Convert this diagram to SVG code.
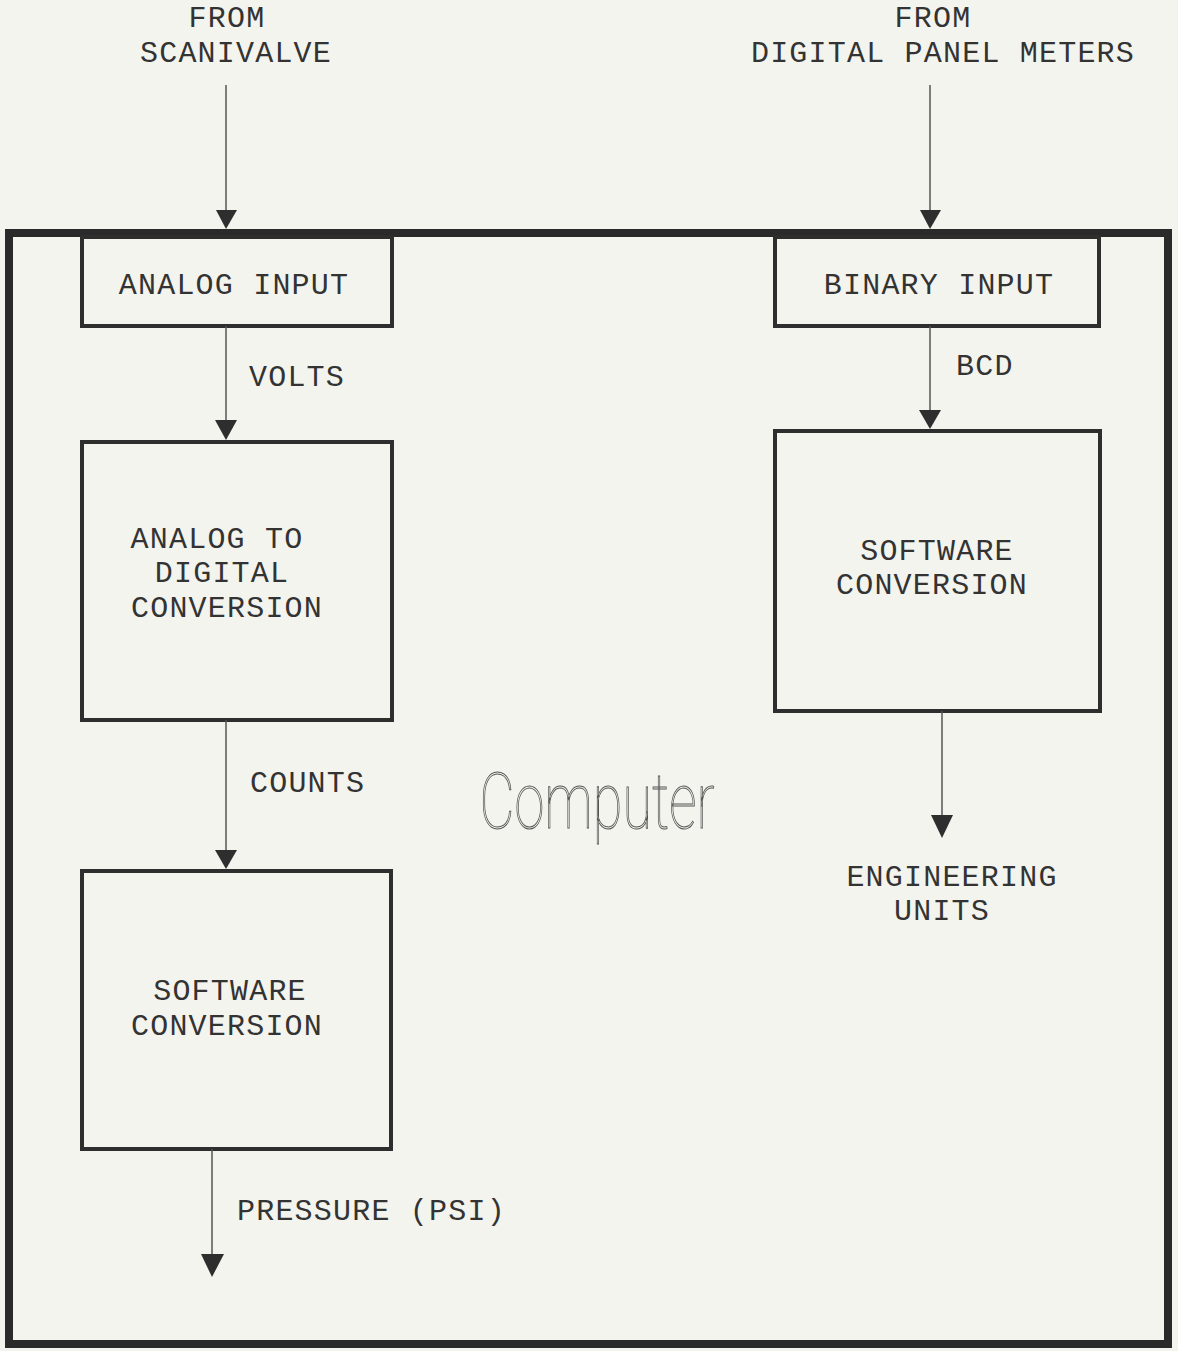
<svg xmlns="http://www.w3.org/2000/svg" width="1178" height="1351" viewBox="0 0 1178 1351">
<defs>
<style>
.t{font-family:"Liberation Mono","Courier New",monospace;font-size:30px;letter-spacing:1.2px;fill:#333;text-anchor:middle}
.l{text-anchor:start}
.box{fill:none;stroke:#2e2e2e;stroke-width:4}
.ln{stroke:#555;stroke-width:1.5;fill:none}
.ah{fill:#2e2e2e}
</style>
</defs>
<rect x="0" y="0" width="1178" height="1351" fill="#f4f4ee"/>
<g id="computer">
<rect x="9" y="233" width="1159" height="1111" fill="none" stroke="#2a2a2a" stroke-width="8"/>
<text x="597" y="828" font-family="Roboto,'Liberation Sans',sans-serif" font-weight="100" font-size="78" fill="#f4f4ee" stroke="#555" stroke-width="1" textLength="235" lengthAdjust="spacingAndGlyphs" text-anchor="middle">Computer</text>
</g>
<g id="src-scanivalve">
<text class="t" x="227" y="27">FROM</text>
<text class="t" x="236" y="62">SCANIVALVE</text>
</g>
<g id="src-dpm">
<text class="t" x="933" y="27">FROM</text>
<text class="t" x="943" y="62">DIGITAL PANEL METERS</text>
</g>
<g id="analog-input">
<rect class="box" x="82" y="237" width="310" height="89"/>
<text class="t" x="234" y="294">ANALOG INPUT</text>
</g>
<g id="binary-input">
<rect class="box" x="775" y="237" width="324" height="89"/>
<text class="t" x="939" y="294">BINARY INPUT</text>
</g>
<g id="adc">
<rect class="box" x="82" y="442" width="310" height="278"/>
<text class="t" x="217" y="548">ANALOG TO</text>
<text class="t" x="222" y="582">DIGITAL</text>
<text class="t" x="227" y="617">CONVERSION</text>
</g>
<g id="sw-left">
<rect class="box" x="82" y="871" width="309" height="278"/>
<text class="t" x="230" y="1000">SOFTWARE</text>
<text class="t" x="227" y="1035">CONVERSION</text>
</g>
<g id="sw-right">
<rect class="box" x="775" y="431" width="325" height="280"/>
<text class="t" x="937" y="560">SOFTWARE</text>
<text class="t" x="932" y="594">CONVERSION</text>
</g>
<g id="out-eng">
<text class="t" x="952" y="886">ENGINEERING</text>
<text class="t" x="942" y="920">UNITS</text>
</g>
<g id="connectors">
<line class="ln" x1="226" y1="85" x2="226" y2="212"/>
<polygon class="ah" points="216,210 237,210 226,229"/>
<line class="ln" x1="930" y1="85" x2="930" y2="212"/>
<polygon class="ah" points="920,210 941,210 930,229"/>
<line class="ln" x1="226" y1="326" x2="226" y2="422"/>
<polygon class="ah" points="215,420 237,420 226,440"/>
<text class="t l" x="249" y="386">VOLTS</text>
<line class="ln" x1="930" y1="326" x2="930" y2="412"/>
<polygon class="ah" points="919,410 941,410 930,429"/>
<text class="t l" x="956" y="375">BCD</text>
<line class="ln" x1="226" y1="720" x2="226" y2="852"/>
<polygon class="ah" points="215,850 237,850 226,869"/>
<text class="t l" x="250" y="792">COUNTS</text>
<line class="ln" x1="942" y1="711" x2="942" y2="817"/>
<polygon class="ah" points="931,815 953,815 942,838"/>
<line class="ln" x1="212" y1="1149" x2="212" y2="1256"/>
<polygon class="ah" points="201,1254 224,1254 212,1277"/>
<text class="t l" x="237" y="1220">PRESSURE (PSI)</text>
</g>
</svg>
